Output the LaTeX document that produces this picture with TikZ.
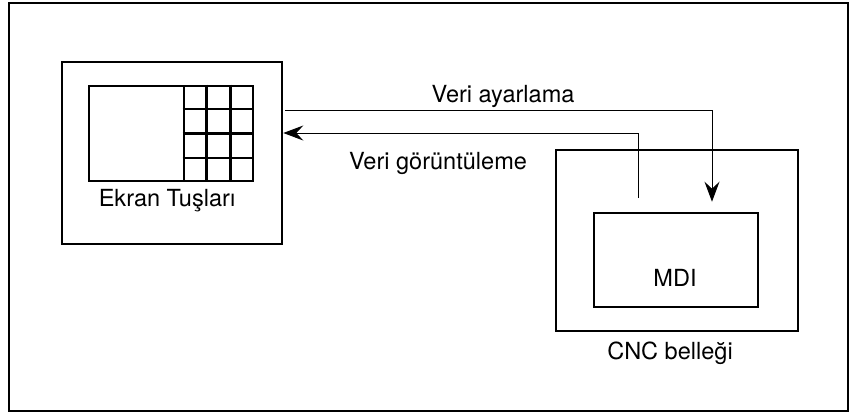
\documentclass[tikz,border=0pt]{standalone}
\usepackage{fontspec}
\setmainfont{TeX Gyre Heros}
\usetikzlibrary{arrows.meta, positioning, calc}

\begin{document}
\begin{tikzpicture}[
    x=0.02cm, y=-0.02cm,
    box/.style={
        rectangle, draw=black, line width=1.5pt, inner sep=0pt
    },
    flow/.style={
        -{Stealth[length=0.4cm, width=0.3cm, inset=0.14cm]}, line width=0.55pt
    },
    lbl/.style={
        font=\fontsize{13.4}{15}\selectfont, inner sep=1pt
    }
]
\useasboundingbox (0,0) rectangle (850,414);

% Outer frame
\draw[line width=0.8pt] (9,3) rectangle (848,411);

% Panel with screen and keys (left)
\node[box, minimum width=4.4cm, minimum height=3.64cm] (panel) at (172,153) {};
\node[box, minimum width=3.28cm, minimum height=1.9cm] (screen) at (171,133.5) {};
\node[box, minimum width=1.38cm, minimum height=1.9cm, anchor=north east] (keys) at (screen.north east) {};
\foreach \i in {1,2}
    \draw[line width=1.5pt] ($(keys.north west)!\i/3!(keys.north east)$) -- ($(keys.south west)!\i/3!(keys.south east)$);
\foreach \j in {1,2,3}
    \draw[line width=1.5pt] ($(keys.north west)!\j/4!(keys.south west)$) -- ($(keys.north east)!\j/4!(keys.south east)$);
\node[lbl] (panellbl) at (167,201) {Ekran Tuşları};

% CNC memory with MDI (right)
\node[box, minimum width=4.84cm, minimum height=3.62cm] (cncmem) at (677,240.5) {};
\node[box, minimum width=3.28cm, minimum height=1.88cm] (mdi) at (676,260) {};
\node[lbl] (mdilbl) at (675,278) {MDI};
\node[lbl] (cnclbl) at (670,353) {CNC belleği};

% Data flows
\coordinate (setbend) at (712,110);
\coordinate (dispfoot) at (638,198);
\coordinate (dispbend) at (638,133);
\draw[flow, shorten >=0.2cm] ($(panel.east |- setbend)+(2,0)$) -- (setbend) -- (setbend |- mdi.north);
\draw[flow] (dispfoot) -- (dispbend) -- (panel.east |- dispbend);
\node[lbl] (setlbl) at (503,96) {Veri ayarlama};
\node[lbl] (displbl) at (438,163) {Veri görüntüleme};

\end{tikzpicture}
\end{document}
